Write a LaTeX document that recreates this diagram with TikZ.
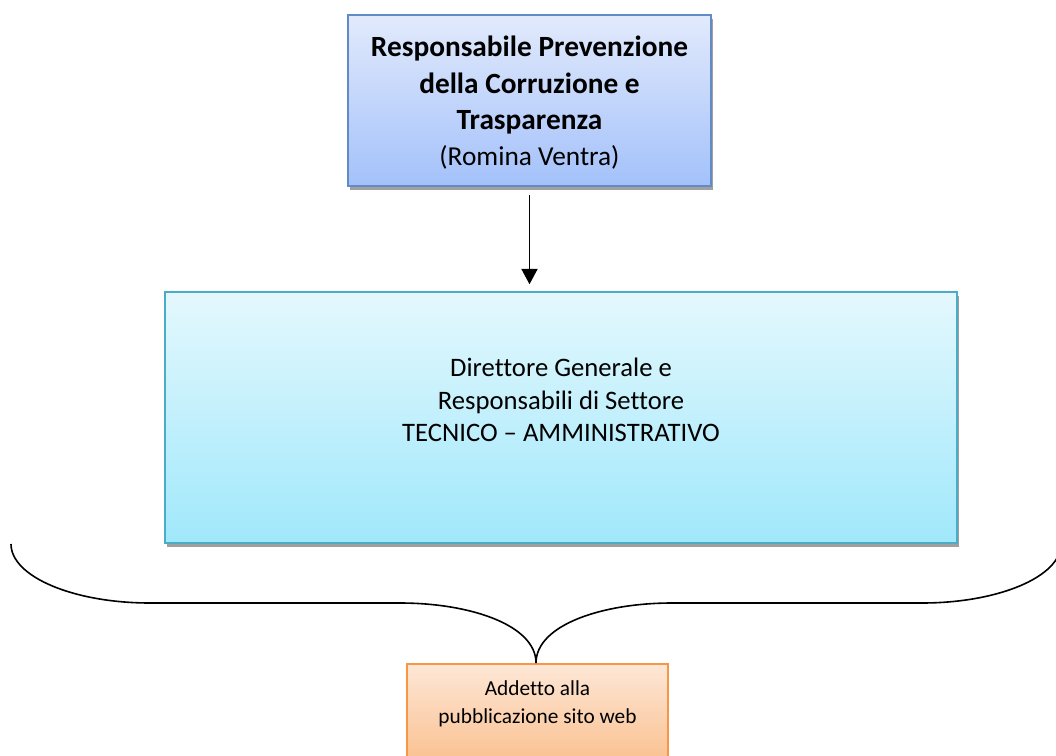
\documentclass[tikz,border=0pt]{standalone}
\usepackage{fontspec}
\setmainfont{Carlito}[Ligatures=NoCommon]
\usetikzlibrary{arrows.meta}
\definecolor{topA}{RGB}{226,234,252}
\definecolor{topB}{RGB}{163,193,250}
\definecolor{topD}{RGB}{98,139,197}
\definecolor{midA}{RGB}{228,248,253}
\definecolor{midB}{RGB}{160,232,251}
\definecolor{midD}{RGB}{75,172,198}
\definecolor{botA}{RGB}{253,231,214}
\definecolor{botB}{RGB}{250,192,143}
\definecolor{botD}{RGB}{247,150,70}
\definecolor{shad}{RGB}{160,160,160}
\tikzset{
  boxbase/.style={rectangle, inner sep=0pt, line width=1.2pt, align=center},
  topbox/.style={boxbase, draw=topD, top color=topA, bottom color=topB},
  midbox/.style={boxbase, draw=midD, top color=midA, bottom color=midB},
  botbox/.style={boxbase, draw=botD, top color=botA, bottom color=botB},
  shadowbox/.style={rectangle, inner sep=0pt, fill=shad, draw=none},
  txt/.style={align=center, inner sep=0pt},
  conn/.style={line width=1.3pt, black},
}
\begin{document}
\begin{tikzpicture}[x=0.75pt, y=-0.75pt]
\useasboundingbox (0,0) rectangle (1056,756);
% shadows
\node[shadowbox, minimum width=363*0.75pt, minimum height=171*0.75pt] (topsh) at (531,104.5) {};
\node[shadowbox, minimum width=792*0.75pt, minimum height=251*0.75pt] (midsh) at (562.5,421.5) {};
% boxes
\node[topbox, minimum width=363*0.75pt, minimum height=171*0.75pt] (top) at (529.5,100.5) {};
\node[txt, font=\fontsize{22pt}{27.2pt}\selectfont] (toptext) at (529.5,103)
  {\textbf{Responsabile Prevenzione}\\ \textbf{della Corruzione e}\\ \textbf{Trasparenza}\\ {\fontsize{20.5pt}{27.2pt}\selectfont (Romina Ventra)}};
\node[midbox, minimum width=792*0.75pt, minimum height=251*0.75pt] (mid) at (561,417.5) {};
\node[txt, font=\fontsize{20pt}{24.4pt}\selectfont] (midtext) at (561,400)
  {Direttore Generale e\\ Responsabili di Settore\\ TECNICO – AMMINISTRATIVO};
\node[botbox, minimum width=261*0.75pt, minimum height=100*0.75pt] (bot) at (537.5,714) {};
\node[txt, font=\fontsize{16pt}{21pt}\selectfont] (bottext) at (537.5,704)
  {Addetto alla\\ pubblicazione sito web};
% arrow
\draw[conn, -{Triangle[length=11.5pt,width=12pt]}, shorten <=6.5pt, shorten >=5.2pt] (top.south) -- (top.south |- mid.north);
% brace
\coordinate (bl) at (11,544);
\coordinate (bl2) at (150,603);
\coordinate (bm1) at (400,603);
\coordinate (tip) at (536,663);
\coordinate (bm2) at (672,603);
\coordinate (br2) at (922,603);
\coordinate (br) at (1061,544);
\draw[conn, line width=1.2pt]
  (bl) .. controls (11,576.6) and (73.3,603) .. (bl2) -- (bm1)
  .. controls (470,603) and (536,625) .. (tip)
  .. controls (536,625) and (602,603) .. (bm2) -- (br2)
  .. controls (998.7,603) and (1061,576.6) .. (br);
\end{tikzpicture}
\end{document}
